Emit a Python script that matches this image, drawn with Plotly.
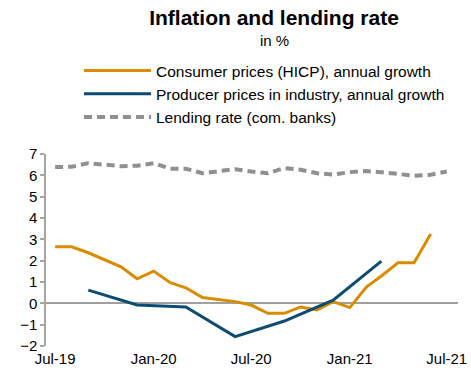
import plotly.graph_objects as go

months = ["2019-07-01","2019-08-01","2019-09-01","2019-10-01","2019-11-01","2019-12-01",
          "2020-01-01","2020-02-01","2020-03-01","2020-04-01","2020-05-01","2020-06-01",
          "2020-07-01","2020-08-01","2020-09-01","2020-10-01","2020-11-01","2020-12-01",
          "2021-01-01","2021-02-01","2021-03-01","2021-04-01","2021-05-01","2021-06-01",
          "2021-07-01"]

cpi_months = months[:24]
cpi = [2.65, 2.65, 2.37, 2.05, 1.71, 1.15, 1.51, 0.97, 0.73, 0.27, 0.19, 0.08,
       -0.08, -0.47, -0.47, -0.17, -0.31, 0.08, -0.20, 0.76, 1.28, 1.90, 1.90, 3.25]

ppi_months = ["2019-09-01","2019-12-01","2020-03-01","2020-06-01","2020-09-01","2020-12-01","2021-03-01"]
ppi = [0.62, -0.08, -0.17, -1.56, -0.83, 0.15, 1.98]

lending = [6.39, 6.40, 6.57, 6.50, 6.43, 6.45, 6.57, 6.31, 6.31, 6.10, 6.18, 6.29,
           6.18, 6.10, 6.34, 6.26, 6.10, 6.03, 6.15, 6.20, 6.15, 6.07, 5.98, 6.03, 6.18]

tick_vals = ["2019-07-01","2020-01-01","2020-07-01","2021-01-01","2021-07-01"]
tick_text = ["Jul-19","Jan-20","Jul-20","Jan-21","Jul-21"]

FONT = "Liberation Sans, Arial, sans-serif"
W, H = 471, 377

fig = go.Figure()
fig.add_trace(go.Scatter(x=cpi_months, y=cpi, mode="lines",
                         name="Consumer prices (HICP), annual growth",
                         line=dict(color="#D98C00", width=3)))
fig.add_trace(go.Scatter(x=ppi_months, y=ppi, mode="lines",
                         name="Producer prices in industry, annual growth",
                         line=dict(color="#0B4C70", width=3)))
fig.add_trace(go.Scatter(x=months, y=lending, mode="lines",
                         name="Lending rate (com. banks)",
                         line=dict(color="#8F9092", width=4, dash="8px,5px")))

fig.update_layout(
    width=W, height=H,
    paper_bgcolor="white", plot_bgcolor="white",
    font=dict(family=FONT, size=15, color="black"),
    margin=dict(l=46, r=13, t=154, b=31, autoexpand=False),
    title=dict(text="<b>Inflation and lending rate</b>", xref="container", yref="container",
               x=274 / W, xanchor="center",
               y=1 - 18 / H, yanchor="middle", font=dict(size=21, family=FONT)),
    annotations=[dict(text="in %", xref="paper", yref="paper",
                      x=(274 - 46) / (W - 46 - 13), y=1 + (154 - 40) / (H - 154 - 31),
                      showarrow=False, font=dict(size=15),
                      xanchor="center", yanchor="middle")],
    showlegend=True,
    legend=dict(orientation="v", xref="container", yref="container",
                x=(85 - 6) / W, y=1 - (55 - 1) / H, xanchor="left", yanchor="top",
                font=dict(size=15.5), itemwidth=67, tracegroupgap=0,
                bgcolor="rgba(0,0,0,0)"),
    xaxis=dict(type="date", range=["2019-06-14", "2021-07-22"],
               tickmode="array", tickvals=tick_vals, ticktext=tick_text,
               showgrid=False, showline=False, ticks="", zeroline=False,
               ticklabelstandoff=2, tickfont=dict(size=15)),
    yaxis=dict(range=[-2, 7], dtick=1, showgrid=False, showline=True,
               linecolor="#A6A6A6", linewidth=1.5, ticks="outside", ticklen=4,
               tickcolor="#A6A6A6", tickwidth=1.5,
               zeroline=True, zerolinecolor="#A0A0A0", zerolinewidth=1.5,
               tickfont=dict(size=15)),
)

fig.write_html("out.html", config={"displayModeBar": False},
               post_script="document.body.style.margin='0px';")
